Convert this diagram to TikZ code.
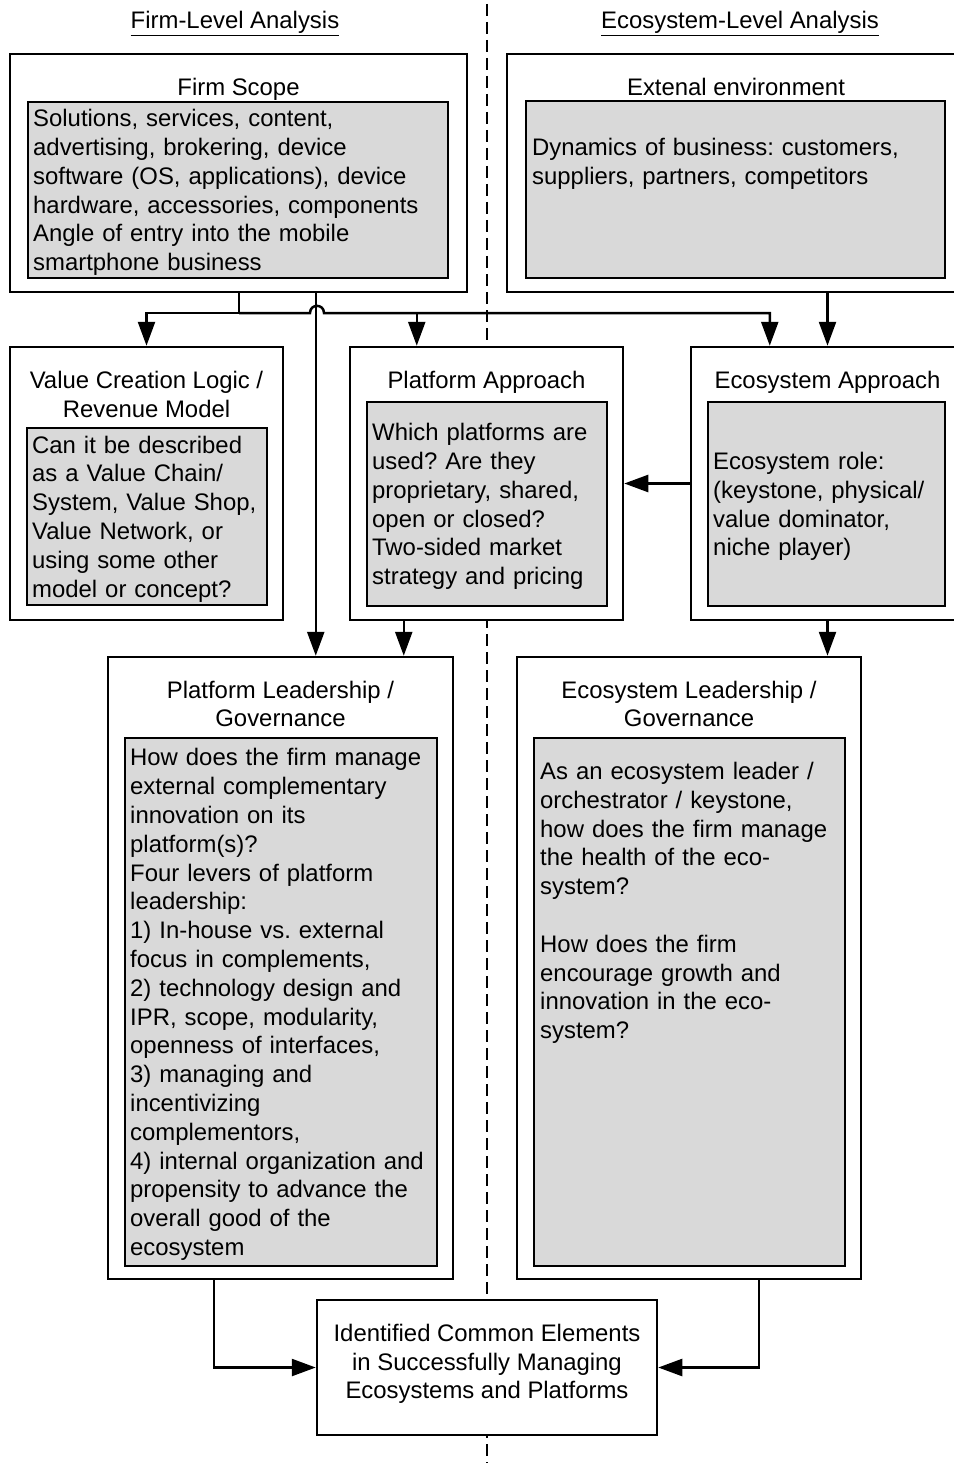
\documentclass[tikz,border=0pt]{standalone}
\usepackage{fontspec}
\setmainfont{Liberation Sans}
\usetikzlibrary{arrows.meta}
\definecolor{panelgray}{RGB}{217,217,217}
\frenchspacing
\begin{document}
\begin{tikzpicture}[x=1pt,y=-1pt,
  font=\fontsize{23.9}{28.8}\selectfont,
  outerbox/.style={draw, line width=2.5pt, fill=white, inner sep=0pt},
  innerbox/.style={draw, line width=2pt, fill=panelgray, inner sep=0pt},
  body/.style={align=left, inner sep=0pt, anchor=west, text width=#1, yshift=-2.5pt},
  ttl/.style={align=center, inner sep=0pt, yshift=-2.5pt},
  ttlone/.style={inner sep=0pt, text height=17pt, text depth=5pt, yshift=-2.5pt},
  heading/.style={inner sep=0pt, anchor=base, yshift=-2pt},
  link/.style={line width=2.5pt, -{Triangle[length=24pt,width=17pt]}},
  wire/.style={line width=2.5pt},
  divider/.style={line width=1.3pt, dash pattern=on 12pt off 6pt},
]
\useasboundingbox (0,0) rectangle (953,1463);

% column divider, drawn first so the boxes cover it
\coordinate (divTop) at (487,4);
\coordinate (divBot) at (487,1463);
\draw[divider] (divTop) -- (divBot);

% column headings
\node[heading] (hFirm) at (235,27) {\underline{Firm-Level Analysis}};
\node[heading] (hEco) at (740,27) {\underline{Ecosystem-Level Analysis}};

% Firm Scope
\node[outerbox, minimum width=457pt, minimum height=238pt] (fs) at (238.5,173) {};
\node[ttlone] (fsT) at (238.5,87) {Firm Scope};
\node[innerbox, minimum width=420pt, minimum height=176pt] (fsIn) at (238,190) {};
\node[body=415pt] (fsText) at ([xshift=6pt]fsIn.west) {Solutions, services, content,\\
advertising, brokering, device\\
software (OS, applications), device\\
hardware, accessories, components\\
Angle of entry into the mobile\\
smartphone business};

% External environment
\node[outerbox, minimum width=458pt, minimum height=238pt] (ee) at (736,173) {};
\node[ttlone] (eeT) at (736,87) {Extenal environment};
\node[innerbox, minimum width=419pt, minimum height=177pt] (eeIn) at (735.5,189.5) {};
\node[body=415pt] (eeText) at (532,161) {Dynamics of business: customers,\\
suppliers, partners, competitors};

% Value Creation Logic
\node[outerbox, minimum width=273pt, minimum height=273pt] (vc) at (146.5,483.5) {};
\node[ttl] (vcT) at (146.5,392) {Value Creation Logic /\\ Revenue Model};
\node[innerbox, minimum width=240pt, minimum height=177pt] (vcIn) at (147,516.5) {};
\node[body=260pt] (vcText) at ([xshift=6pt]vcIn.west) {Can it be described\\
as a Value Chain/\\
System, Value Shop,\\
Value Network, or\\
using some other\\
model or concept?};

% Platform Approach
\node[outerbox, minimum width=273pt, minimum height=273pt] (pa) at (486.5,483.5) {};
\node[ttlone] (paT) at (486.5,380) {Platform Approach};
\node[innerbox, minimum width=240pt, minimum height=204pt] (paIn) at (487,504) {};
\node[body=260pt] (paText) at ([xshift=6pt]paIn.west) {Which platforms are\\
used? Are they\\
proprietary, shared,\\
open or closed?\\
Two-sided market\\
strategy and pricing};

% Ecosystem Approach
\node[outerbox, minimum width=273pt, minimum height=273pt] (ea) at (827.5,483.5) {};
\node[ttlone] (eaT) at (827.5,380) {Ecosystem Approach};
\node[innerbox, minimum width=237pt, minimum height=204pt] (eaIn) at (826.5,504) {};
\node[body=260pt] (eaText) at ([xshift=6pt]eaIn.west) {Ecosystem role:\\
(keystone, physical/\\
value dominator,\\
niche player)};

% Platform Leadership / Governance
\node[outerbox, minimum width=345pt, minimum height=622pt] (pl) at (280.5,968) {};
\node[ttl] (plT) at (280.5,701.5) {Platform Leadership /\\ Governance};
\node[innerbox, minimum width=312pt, minimum height=528pt] (plIn) at (281,1002) {};
\node[body=330pt] (plText) at ([xshift=6pt]plIn.west) {How does the firm manage\\
external complementary\\
innovation on its\\
platform(s)?\\
Four levers of platform\\
leadership:\\
1) In-house vs. external\\
focus in complements,\\
2) technology design and\\
IPR, scope, modularity,\\
openness of interfaces,\\
3) managing and\\
incentivizing\\
complementors,\\
4) internal organization and\\
propensity to advance the\\
overall good of the\\
ecosystem};

% Ecosystem Leadership / Governance
\node[outerbox, minimum width=344pt, minimum height=622pt] (el) at (689,968) {};
\node[ttl] (elT) at (689,701.5) {Ecosystem Leadership /\\ Governance};
\node[innerbox, minimum width=311pt, minimum height=528pt] (elIn) at (689.5,1002) {};
\node[body=330pt] (elText) at (540,900.5) {As an ecosystem leader /\\
orchestrator / keystone,\\
how does the firm manage\\
the health of the eco-\\
system?\\[28.8pt]
How does the firm\\
encourage growth and\\
innovation in the eco-\\
system?};

% Common elements
\node[outerbox, minimum width=340pt, minimum height=135pt] (ic) at (487,1367.5) {};
\node[ttl] (icText) at (487,1361.5) {Identified Common Elements\\
in Successfully Managing\\
Ecosystems and Platforms};

% connectors from Firm Scope
\coordinate (split) at (239,313);
\coordinate (plTop) at ([xshift=209pt]pl.north west);
\coordinate (paTop) at ([xshift=68pt]pa.north west);
\coordinate (eaTop) at ([xshift=80pt]ea.north west);
\coordinate (hopL) at (310,313);
\coordinate (hopR) at (324,313);
\draw[wire] (fs.south -| split) -- (split);
\draw[link] (split) -| (vc.north);
\draw[link] (split) -- (hopL) .. controls (310,303.5) and (324,303.5) .. (hopR) -| (eaTop);
\draw[link] (paTop |- split) -- (paTop);
\draw[link] (plTop |- fs.south) -- (plTop);

% connectors between approaches and leadership boxes
\draw[link] (ee.south -| ea.north) -- (ea.north);
\draw[link] (ea.west) -- (pa.east);
\coordinate (paOut) at ([xshift=55pt]pa.south west);
\draw[link] (paOut) -- (paOut |- pl.north);
\draw[link] (ea.south) -- (ea.south |- el.north);

% into the common elements box
\draw[link] ([xshift=107pt]pl.south west) |- (ic.west);
\draw[link] ([xshift=243pt]el.south west) |- (ic.east);
\end{tikzpicture}
\end{document}
